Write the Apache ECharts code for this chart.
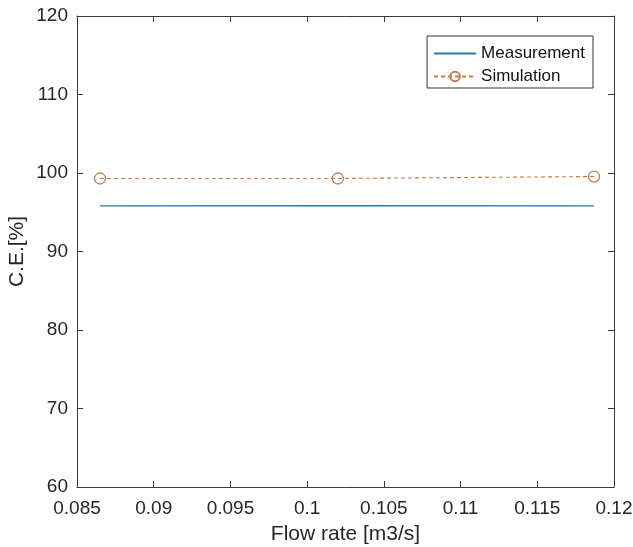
<!DOCTYPE html>
<html>
<head>
<meta charset="utf-8">
<script src="https://cdn.jsdelivr.net/npm/echarts@6/dist/echarts.min.js"></script>
<style>
html, body { margin: 0; padding: 0; background: #fff; }
#chart { width: 633px; height: 547px; }
</style>
</head>
<body>
<div id="chart"></div>
<script>
// Flow rate samples [m3/s]
const flowRates = [0.0865, 0.102, 0.1187];
// Collection efficiency [%]
const measurement = [95.8, 95.85, 95.8];
const simulation = [99.3, 99.3, 99.55];
const seriesNames = ['Measurement', 'Simulation'];

const axisColor = '#3a3a3a';
const textColor = '#262626';
const font = 'Liberation Sans, Arial, sans-serif';

const pairs = (xs, ys) => xs.map((x, i) => [x, ys[i]]);
const fmtX = v => String(+(+v).toFixed(3));

const tick = { show: true, inside: true, length: 6, lineStyle: { color: axisColor } };
const line = { show: true, lineStyle: { color: axisColor, width: 1 } };

const chart = echarts.init(document.getElementById('chart'), null, { renderer: 'canvas' });
chart.setOption({
  animation: false,
  backgroundColor: '#fff',
  grid: { left: 77, top: 16, right: 19, bottom: 60, containLabel: false, outerBoundsMode: 'none' },
  legend: {
    orient: 'vertical',
    right: 40, top: 36,
    itemWidth: 42, itemHeight: 12, itemGap: 6,
    padding: [9, 8, 3, 6],
    borderColor: '#333', borderWidth: 1,
    backgroundColor: '#fff',
    textStyle: { fontFamily: font, fontSize: 17, color: '#111' },
    data: [
      { name: seriesNames[0], itemStyle: { opacity: 0 } },
      { name: seriesNames[1] }
    ]
  },
  xAxis: [
    {
      type: 'value', min: 0.085, max: 0.12, interval: 0.005,
      name: 'Flow rate [m3/s]', nameLocation: 'middle', nameGap: 37, nameMoveOverlap: false,
      nameTextStyle: { fontFamily: font, fontSize: 21, color: textColor },
      axisLine: line, axisTick: tick,
      axisLabel: { fontFamily: font, fontSize: 19, color: textColor, margin: 12, formatter: fmtX, showMinLabel: true, showMaxLabel: true },
      splitLine: { show: false }
    },
    {
      type: 'value', position: 'top', min: 0.085, max: 0.12, interval: 0.005,
      axisLine: line, axisTick: tick,
      axisLabel: { show: false }, splitLine: { show: false }
    }
  ],
  yAxis: [
    {
      type: 'value', min: 60, max: 120, interval: 10,
      name: 'C.E.[%]', nameLocation: 'middle', nameGap: 49, nameMoveOverlap: false,
      nameTextStyle: { fontFamily: font, fontSize: 21, color: textColor },
      axisLine: line, axisTick: tick,
      axisLabel: { fontFamily: font, fontSize: 19, color: textColor, margin: 9, padding: [3, 0, 0, 0] },
      splitLine: { show: false }
    },
    {
      type: 'value', position: 'right', min: 60, max: 120, interval: 10,
      axisLine: line, axisTick: tick,
      axisLabel: { show: false }, splitLine: { show: false }
    }
  ],
  series: [
    {
      name: seriesNames[0], type: 'line', xAxisIndex: 0, yAxisIndex: 0,
      data: pairs(flowRates, measurement),
      showSymbol: false, symbol: 'none',
      lineStyle: { color: '#2a77a0', width: 1.3 },
      itemStyle: { color: '#2a77a0' }
    },
    {
      name: seriesNames[1], type: 'line', xAxisIndex: 0, yAxisIndex: 0,
      data: pairs(flowRates, simulation),
      symbol: 'circle', symbolSize: 11,
      lineStyle: { color: '#c27c50', width: 1.1, type: [4, 3] },
      itemStyle: { color: 'rgba(255,255,255,0)', borderColor: '#b98060', borderWidth: 1.3 }
    }
  ]
});
</script>
</body>
</html>
